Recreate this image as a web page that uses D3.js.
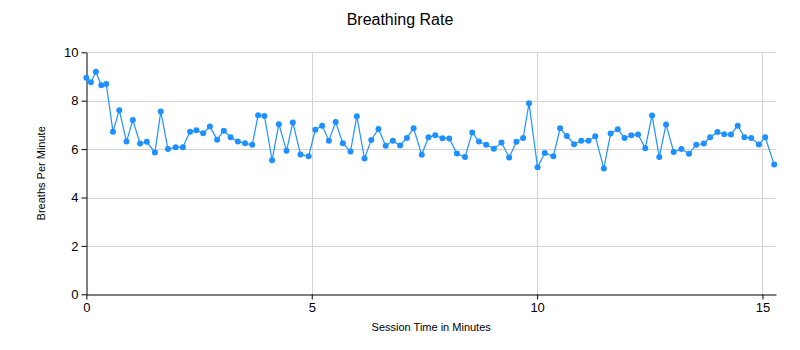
<!DOCTYPE html>
<html>
<head>
<meta charset="utf-8">
<script src="https://cdn.jsdelivr.net/npm/d3@7"></script>
<style>
  body { margin: 0; background: #fff; }
  svg { display: block; font-family: "Liberation Sans", Arial, sans-serif; }
</style>
</head>
<body>
<svg id="chart" width="800" height="350"></svg>
<script>
const title = "Breathing Rate";
const xLabel = "Session Time in Minutes";
const yLabel = "Breaths Per Minute";
const xTicks = [0, 5, 10, 15];
const yTicks = [0, 2, 4, 6, 8, 10];

const minutes = [0.00,0.10,0.21,0.33,0.44,0.59,0.73,0.89,1.03,1.19,1.34,1.52,1.65,1.81,1.98,2.14,2.30,2.44,2.59,2.74,
  2.90,3.05,3.20,3.36,3.52,3.68,3.81,3.95,4.12,4.27,4.44,4.58,4.75,4.93,5.08,5.23,5.38,5.53,5.69,5.86,
  6.00,6.17,6.32,6.48,6.64,6.80,6.96,7.11,7.26,7.44,7.59,7.74,7.90,8.05,8.22,8.40,8.56,8.71,8.87,9.04,
  9.21,9.38,9.54,9.69,9.82,10.01,10.17,10.36,10.51,10.66,10.82,10.98,11.14,11.29,11.48,11.63,11.79,11.94,12.09,12.24,
  12.40,12.55,12.71,12.86,13.03,13.20,13.37,13.53,13.70,13.84,14.00,14.15,14.30,14.45,14.60,14.75,14.92,15.06,15.26];
const breaths = [8.95,8.76,9.20,8.64,8.69,6.72,7.61,6.31,7.20,6.23,6.30,5.86,7.55,6.00,6.08,6.08,6.72,6.78,6.65,6.93,
  6.39,6.76,6.49,6.31,6.24,6.18,7.40,7.37,5.54,7.03,5.93,7.10,5.78,5.70,6.80,6.97,6.35,7.12,6.24,5.90,
  7.36,5.61,6.38,6.83,6.14,6.34,6.15,6.46,6.86,5.77,6.49,6.57,6.45,6.44,5.82,5.67,6.69,6.31,6.18,6.01,
  6.27,5.65,6.30,6.46,7.89,5.25,5.84,5.70,6.86,6.54,6.20,6.34,6.35,6.53,5.20,6.64,6.82,6.46,6.57,6.60,
  6.04,7.39,5.67,7.02,5.88,6.00,5.81,6.18,6.23,6.49,6.71,6.61,6.60,6.97,6.49,6.46,6.19,6.49,5.36];

const data = minutes.map((m, i) => ({ x: m, y: breaths[i] }));

const svg = d3.select("#chart");
const pLeft = 86.4, pRight = 776, pTop = 52.3, pBottom = 294.3;

const x = d3.scaleLinear().domain([0, 15.3]).range([pLeft, pRight]);
const y = d3.scaleLinear().domain([0, 10]).range([pBottom, pTop]);

// gridlines
svg.append("g").selectAll("line").data(yTicks.filter(d => d > 0)).join("line")
  .attr("x1", pLeft).attr("x2", pRight)
  .attr("y1", d => Math.round(y(d)) + 0.5).attr("y2", d => Math.round(y(d)) + 0.5)
  .attr("stroke", "#d3d3d3").attr("stroke-width", 1);
svg.append("g").selectAll("line").data(xTicks.filter(d => d > 0)).join("line")
  .attr("y1", pTop).attr("y2", pBottom)
  .attr("x1", d => Math.round(x(d)) + 0.5).attr("x2", d => Math.round(x(d)) + 0.5)
  .attr("stroke", "#d3d3d3").attr("stroke-width", 1);

// axes
const xAxis = d3.axisBottom(x).tickValues(xTicks).tickSize(5).tickPadding(3).tickSizeOuter(0);
const yAxis = d3.axisLeft(y).tickValues(yTicks).tickSize(5).tickPadding(3).tickSizeOuter(0);

const gx = svg.append("g").attr("transform", `translate(0,${Math.round(pBottom)+0.5})`).call(xAxis);
const gy = svg.append("g").attr("transform", `translate(${Math.round(pLeft)+0.5},0)`).call(yAxis);
[gx, gy].forEach(g => {
  g.select(".domain").attr("stroke", "#000");
  g.selectAll(".tick line").attr("stroke", "#000");
  g.selectAll(".tick text").attr("fill", "#000").style("font-size", "13px")
    .style("font-family", "'Liberation Sans', Arial, sans-serif");
});

// line
const line = d3.line().x(d => x(d.x)).y(d => y(d.y));
svg.append("path").datum(data)
  .attr("fill", "none").attr("stroke", "#1E90FF").attr("stroke-width", 1.2)
  .attr("d", line);
svg.append("g").selectAll("circle").data(data).join("circle")
  .attr("cx", d => x(d.x)).attr("cy", d => y(d.y)).attr("r", 3)
  .attr("fill", "#1E90FF");

// texts
svg.append("text").attr("x", 400).attr("y", 25).attr("text-anchor", "middle")
  .style("font-size", "16px").attr("fill", "#000").text(title);
svg.append("text").attr("x", (pLeft + pRight) / 2).attr("y", 331).attr("text-anchor", "middle")
  .style("font-size", "11px").attr("fill", "#000").text(xLabel);
svg.append("text").attr("transform", `translate(45,${(pTop + pBottom) / 2}) rotate(-90)`)
  .attr("text-anchor", "middle").style("font-size", "11px").attr("fill", "#000").text(yLabel);
</script>
</body>
</html>
